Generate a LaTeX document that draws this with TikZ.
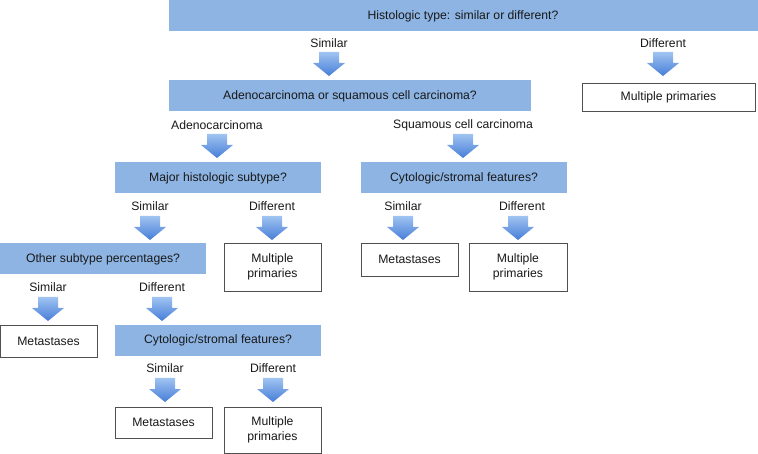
\documentclass[tikz,border=0pt]{standalone}
\usepackage{fontspec}
\setmainfont{Liberation Sans}
\definecolor{boxblue}{RGB}{141,180,227}
\definecolor{arrtop}{RGB}{160,196,242}
\definecolor{arrbot}{RGB}{70,125,215}
\definecolor{edgegray}{RGB}{80,80,80}
\definecolor{txt}{RGB}{25,25,25}
\begin{document}
\begin{tikzpicture}[x=1pt,y=-1pt,
  font=\fontsize{12.2}{15}\selectfont, text=txt,
  bluebox/.style={fill=boxblue, inner sep=0pt},
  whitebox/.style={draw=edgegray, line width=0.8pt, fill=white, inner sep=0pt, align=center},
  lbl/.style={inner sep=0pt, anchor=center},
  darr/.pic={\path[top color=arrtop, bottom color=arrbot]
     (-10,0) -- (10,0) -- (10,11) -- (16,11) -- (0,24) -- (-16,11) -- (-10,11) -- cycle;}
]
\useasboundingbox (0,0) rectangle (758,454);

% Row 1
\path[bluebox] (169,0) rectangle (758,31);
\node[lbl] (q1) at (463,16) {Histologic type: similar or different?};
\node[lbl] (l1a) at (329,43) {Similar};
\node[lbl] (l1b) at (663,43) {Different};
\pic at (329,52) {darr};
\pic at (663,52) {darr};

% Row 2
\path[bluebox] (169,80) rectangle (531,111);
\node[lbl] (q2) at (350,96) {Adenocarcinoma or squamous cell carcinoma?};
\draw[whitebox] (582,83) rectangle (755,111);
\node[lbl] (mp1) at (668.5,97) {Multiple primaries};
\node[lbl] (l2a) at (217,125) {Adenocarcinoma};
\node[lbl] (l2b) at (463,125) {Squamous cell carcinoma};
\pic at (217,134) {darr};
\pic at (463,134) {darr};

% Row 3
\path[bluebox] (115,162) rectangle (321,193);
\node[lbl] (q3) at (218,178) {Major histologic subtype?};
\path[bluebox] (361,162) rectangle (567,193);
\node[lbl] (q4) at (464,178) {Cytologic/stromal features?};
\node[lbl] (l3a) at (150,206) {Similar};
\node[lbl] (l3b) at (272,206) {Different};
\node[lbl] (l3c) at (403,206) {Similar};
\node[lbl] (l3d) at (522,206) {Different};
\pic at (150,216) {darr};
\pic at (272,216) {darr};
\pic at (403,216) {darr};
\pic at (518,216) {darr};

% Row 4
\path[bluebox] (0,243) rectangle (206,274);
\node[lbl] (q5) at (103,259) {Other subtype percentages?};
\draw[whitebox] (224,243) rectangle (321,291);
\node[lbl, align=center] (mp2) at (272.5,267) {Multiple\\primaries};
\draw[whitebox] (361,243) rectangle (458,276);
\node[lbl] (m1) at (409.5,259.5) {Metastases};
\draw[whitebox] (469,243) rectangle (567,291);
\node[lbl, align=center] (mp3) at (518,267) {Multiple\\primaries};
\node[lbl] (l4a) at (48,287) {Similar};
\node[lbl] (l4b) at (162,287) {Different};
\pic at (48,297) {darr};
\pic at (162,297) {darr};

% Row 5
\draw[whitebox] (0.5,325) rectangle (97,357);
\node[lbl] (m2) at (48.5,341) {Metastases};
\path[bluebox] (115,325) rectangle (321,356);
\node[lbl] (q6) at (218,340.5) {Cytologic/stromal features?};
\node[lbl] (l5a) at (165,368) {Similar};
\node[lbl] (l5b) at (273,368) {Different};
\pic at (165,378) {darr};
\pic at (273,378) {darr};

% Row 6
\draw[whitebox] (115,407) rectangle (212,438);
\node[lbl] (m3) at (163.5,422.5) {Metastases};
\draw[whitebox] (224,407) rectangle (321,453);
\node[lbl, align=center] (mp4) at (272.5,430) {Multiple\\primaries};
\end{tikzpicture}
\end{document}
